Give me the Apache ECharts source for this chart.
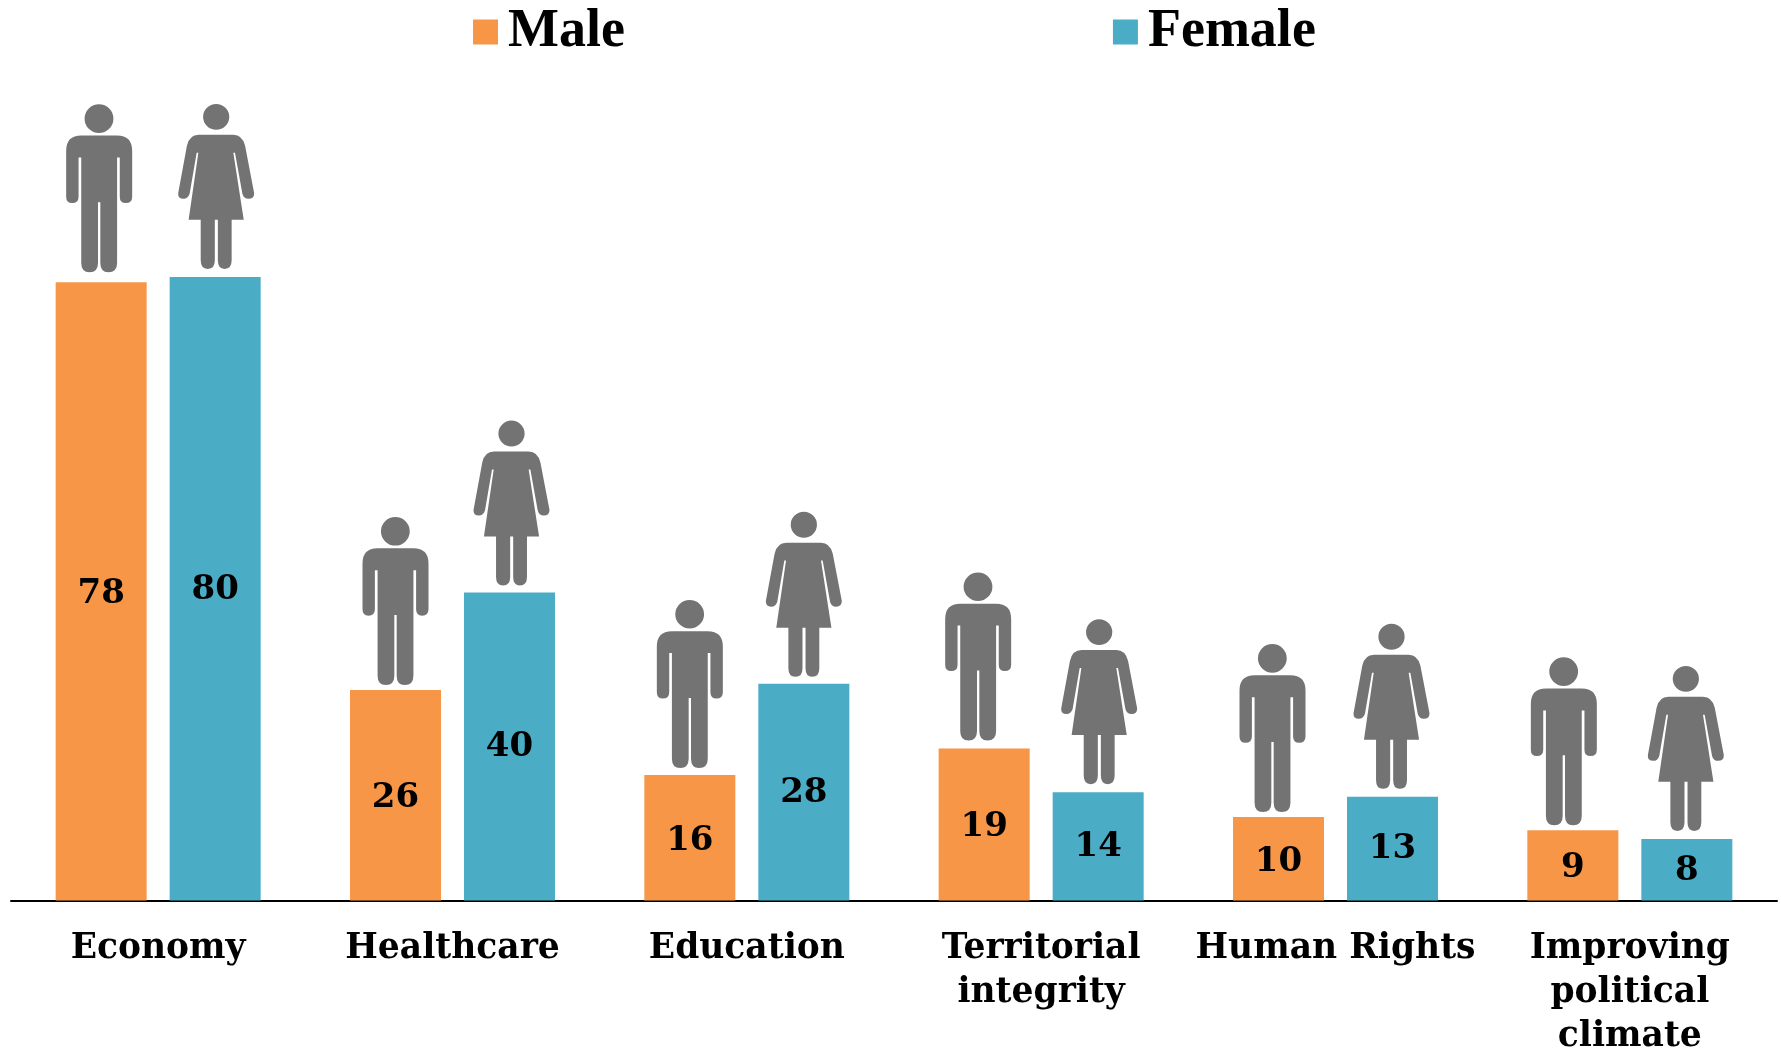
<!DOCTYPE html>
<html>
<head>
<meta charset="utf-8">
<style>html,body{margin:0;padding:0;background:#fff}#c{width:1781px;height:1049px}</style>
<script src="https://cdn.jsdelivr.net/npm/echarts@6/dist/echarts.min.js"></script>
</head>
<body>
<div id="c"></div>
<script>
const categories = ['Economy', 'Healthcare', 'Education', 'Territorial\nintegrity', 'Human Rights', 'Improving\npolitical\nclimate'];
const maleLabels = [78, 26, 16, 19, 10, 9];
const femaleLabels = [80, 40, 28, 14, 13, 8];
// drawn bar heights (slightly differ from the printed labels)
const maleHeights = [79.3, 27, 16.1, 19.5, 10.7, 9];
const femaleHeights = [80, 39.5, 27.8, 13.9, 13.3, 7.9];

// icon nudges relative to their bar
const maleIconDx = [-2, 0, 0, -6, -6, -9];
const maleIconGap = [10, 5, 7, 8, 5, 5];
const femaleIconDx = [1, 2, 0, 1, -1, -1];
const femaleIconGap = [8, 7, 7, 8, 8, 8];

const MAN = 'path://M255 175A43 43 0 1 1 341 175A43 43 0 1 1 255 175ZM245 226L352 226Q397 226 397 272L397 410Q397 429 378 429Q360 429 360 410L360 292L352 292L352 610Q352 638 326 638Q302 638 302 610L302 427L295 427L295 610Q295 638 270 638Q245 638 245 610L245 292L237 292L237 410Q237 429 218 429Q200 429 200 410L200 272Q200 226 245 226Z';
const WOMAN = 'path://M608 168A39 39 0 1 1 686 168A39 39 0 1 1 608 168ZM595 222L698 222Q725 222 733 255L760 398Q760 415 743 415Q729 415 725 400L703 276L698 276L729 478L693 478L693 600Q693 626 672 626Q652 626 652 600L652 478L643 478L643 600Q643 626 622 626Q601 626 601 600L601 478L565 478L594 276L589 276L568 400Q563 415 550 415Q533 415 534 398L560 255Q567 222 595 222Z';

const FONT = '"DejaVu Serif"';
const LEGEND_FONT = '"Liberation Serif"';
const ORANGE = '#F79646', TEAL = '#4BACC6', GREY = '#737373';
const barW = 91, gap = 23, shift = (barW + gap) / 2;

function barSeries(name, heights, labels, color, labelDy) {
  return {
    name, type: 'bar', data: heights, barWidth: barW, barGap: (gap / barW * 100) + '%',
    itemStyle: { color },
    label: {
      show: true, position: 'inside', offset: [0, labelDy], color: '#000', fontFamily: FONT, fontWeight: 'bold', fontSize: 34,
      formatter: p => String(labels[p.dataIndex])
    }
  };
}
function iconSeries(name, heights, symbol, w, h, side, dxs, gaps) {
  return {
    name, type: 'scatter', z: 5, clip: false, silent: true,
    data: heights.map((v, i) => ({
      value: [i, v], symbol, symbolSize: [w, h],
      symbolOffset: [side * shift + dxs[i], -(h / 2 + gaps[i])]
    })),
    itemStyle: { color: GREY, opacity: 1 }
  };
}

const chart = echarts.init(document.getElementById('c'), null, { renderer: 'canvas' });
chart.setOption({
  animation: false,
  backgroundColor: '#fff',
  legend: {
    data: ['Male', 'Female'], left: 473, top: 5, icon: 'rect', itemWidth: 25, itemHeight: 25,
    itemGap: 488, selectedMode: false, padding: 0,
    textStyle: { fontFamily: LEGEND_FONT, fontWeight: 'bold', fontSize: 54, color: '#000', padding: [0, 0, 0, 5] }
  },
  grid: { left: 11, right: 4, top: 121, bottom: 148.5, outerBoundsMode: 'none' },
  xAxis: {
    type: 'category', data: categories,
    axisLine: { show: true, lineStyle: { color: '#000', width: 2 } },
    axisTick: { show: false },
    axisLabel: {
      interval: 0, margin: 27, color: '#000', fontFamily: FONT, fontWeight: 'bold', fontSize: 34.5, lineHeight: 44
    }
  },
  yAxis: { type: 'value', min: 0, max: 100, show: false },
  series: [
    barSeries('Male', maleHeights, maleLabels, ORANGE, 3),
    barSeries('Female', femaleHeights, femaleLabels, TEAL, 1),
    iconSeries('Male icon', maleHeights, MAN, 66, 168, -1, maleIconDx, maleIconGap),
    iconSeries('Female icon', femaleHeights, WOMAN, 76, 165, 1, femaleIconDx, femaleIconGap)
  ]
});
</script>
</body>
</html>
